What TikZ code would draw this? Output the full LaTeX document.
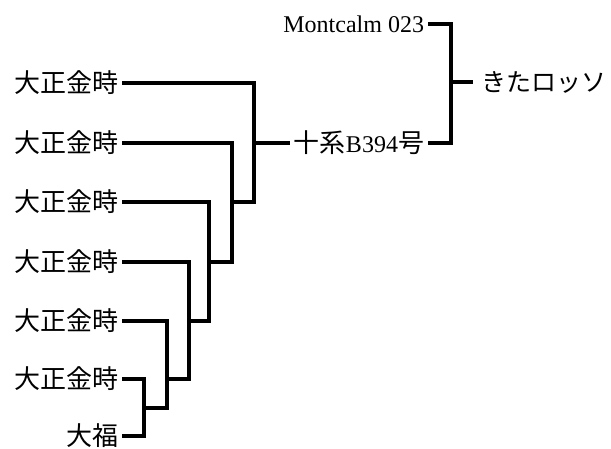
\documentclass[tikz,border=0pt]{standalone}
\usepackage{fontspec}
\setmainfont{Liberation Serif}
\newfontfamily\cjk{Noto Sans CJK JP}
\newcommand{\cjkbig}{\cjk\fontsize{26}{30}\selectfont}
\tikzset{
  lbl/.style={inner xsep=4pt, inner ysep=0pt, outer sep=0pt, font=\fontsize{24}{28}\selectfont},
  leaf/.style={lbl, anchor=east},
  link/.style={line width=3.3pt},
}
\begin{document}
\begin{tikzpicture}[x=1pt,y=-1pt]
\useasboundingbox (0,0) rectangle (611,448);
% leaves
\node[leaf] (l1) at (122,83)  {\cjkbig 大正金時};
\node[leaf] (l2) at (122,143) {\cjkbig 大正金時};
\node[leaf] (l3) at (122,202) {\cjkbig 大正金時};
\node[leaf] (l4) at (122,262) {\cjkbig 大正金時};
\node[leaf] (l5) at (122,321) {\cjkbig 大正金時};
\node[leaf] (l6) at (122,379) {\cjkbig 大正金時};
\node[leaf] (l7) at (122,436) {\cjkbig 大福};
% upper generation
\node[leaf] (m) at (428,24)  {Montcalm 023};
\node[leaf] (j) at (428,143) {{\cjkbig 十系}B394{\cjkbig 号}};
\node[lbl, anchor=west, inner xsep=8pt] (k) at (473,82) {\cjk\fontsize{25}{30}\selectfont きたロッソ};
% junctions
\coordinate (c6) at (144,408);
\coordinate (c5) at (167,379);
\coordinate (c4) at (189,321);
\coordinate (c3) at (209,262);
\coordinate (c2) at (232,202);
\coordinate (c1) at (254,143);
\coordinate (c0) at (451,82);
% connectors
\draw[link] (l6.east) -| (c6) |- (l7.east);
\draw[link] (l5.east) -| (c5) |- (c6);
\draw[link] (l4.east) -| (c4) |- (c5);
\draw[link] (l3.east) -| (c3) |- (c4);
\draw[link] (l2.east) -| (c2) |- (c3);
\draw[link] (l1.east) -| (c1) |- (c2);
\draw[link] (c1) -- (j.west);
\draw[link] (m.east) -| (c0) |- (j.east);
\draw[link] (c0) -- (k.west);
\end{tikzpicture}
\end{document}
